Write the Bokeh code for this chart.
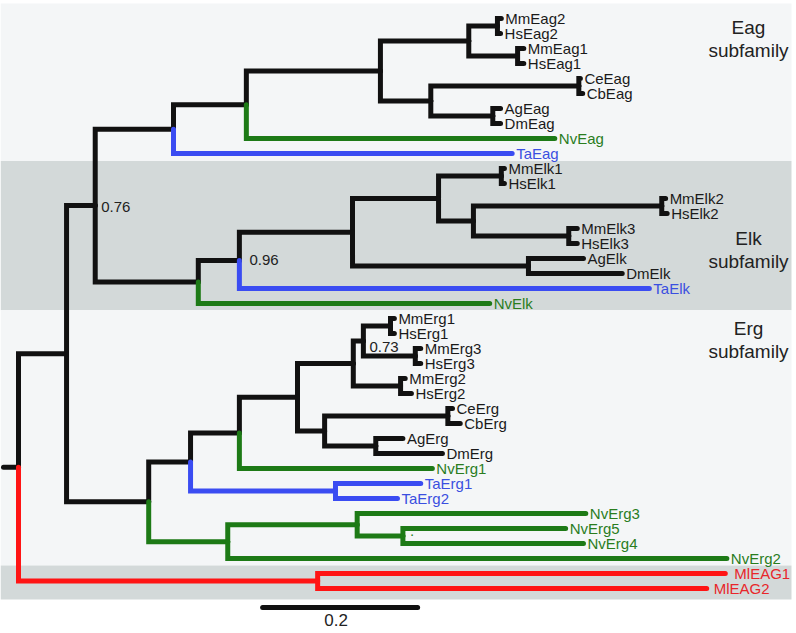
from bokeh.plotting import figure
from bokeh.models import Range1d, ColumnDataSource
from bokeh.embed import file_html
from bokeh.resources import INLINE
from bokeh.core.properties import value

# ---------------- data ----------------
# leaves, top to bottom
leaf_names = ["MmEag2", "HsEag2", "MmEag1", "HsEag1", "CeEag", "CbEag", "AgEag", "DmEag", "NvEag", "TaEag",
              "MmElk1", "HsElk1", "MmElk2", "HsElk2", "MmElk3", "HsElk3", "AgElk", "DmElk", "TaElk", "NvElk",
              "MmErg1", "HsErg1", "MmErg3", "HsErg3", "MmErg2", "HsErg2", "CeErg", "CbErg", "AgErg", "DmErg",
              "NvErg1", "TaErg1", "TaErg2", "NvErg3", "NvErg5", "NvErg4", "NvErg2", "MlEAG1", "MlEAG2"]
# distance of each tip from the root (substitutions/site)
leaf_depth = [0.623, 0.622, 0.652, 0.652, 0.725, 0.728, 0.622, 0.622, 0.692, 0.637,
              0.627, 0.627, 0.835, 0.837, 0.721, 0.721, 0.729, 0.779, 0.814, 0.608,
              0.485, 0.485, 0.519, 0.519, 0.499, 0.507, 0.560, 0.570, 0.496, 0.547,
              0.534, 0.519, 0.489, 0.732, 0.706, 0.729, 0.914, 0.912, 0.888]
leaf_lineage = (["Bilateria"] * 8 + ["Nematostella", "Trichoplax"] +
                ["Bilateria"] * 8 + ["Trichoplax", "Nematostella"] +
                ["Bilateria"] * 10 +
                ["Nematostella", "Trichoplax", "Trichoplax", "Nematostella", "Nematostella",
                 "Nematostella", "Nematostella", "Mnemiopsis", "Mnemiopsis"])

# internal nodes
node_names = ["root", "B", "C", "E", "G", "H", "I", "Eag2", "Eag1", "J", "CeCbEag", "AgDmEag",
              "F", "L", "K", "M", "Elk1", "N", "Elk2", "Elk3", "AgDmElk",
              "D", "Q", "S", "T", "U", "W", "Erg1", "Erg3", "Erg2", "V", "CeCbErg", "AgDmErg",
              "TaErg", "R", "X", "Y", "Ml"]
node_depth = [0.000, 0.062, 0.099, 0.200, 0.294, 0.467, 0.581, 0.618, 0.644, 0.532, 0.723, 0.612,
              0.232, 0.285, 0.431, 0.542, 0.623, 0.587, 0.830, 0.710, 0.658,
              0.168, 0.222, 0.285, 0.360, 0.432, 0.445, 0.480, 0.512, 0.493, 0.395, 0.554, 0.461,
              0.409, 0.270, 0.437, 0.496, 0.386]
node_children = [["B", "Ml"], ["C", "D"], ["E", "F"], ["G", "TaEag"], ["H", "NvEag"], ["I", "J"],
                 ["Eag2", "Eag1"], ["MmEag2", "HsEag2"], ["MmEag1", "HsEag1"], ["CeCbEag", "AgDmEag"],
                 ["CeEag", "CbEag"], ["AgEag", "DmEag"],
                 ["L", "NvElk"], ["K", "TaElk"], ["M", "AgDmElk"], ["Elk1", "N"], ["MmElk1", "HsElk1"],
                 ["Elk2", "Elk3"], ["MmElk2", "HsElk2"], ["MmElk3", "HsElk3"], ["AgElk", "DmElk"],
                 ["Q", "R"], ["S", "TaErg"], ["T", "NvErg1"], ["U", "V"], ["W", "Erg2"], ["Erg1", "Erg3"],
                 ["MmErg1", "HsErg1"], ["MmErg3", "HsErg3"], ["MmErg2", "HsErg2"], ["CeCbErg", "AgDmErg"],
                 ["CeErg", "CbErg"], ["AgErg", "DmErg"],
                 ["TaErg1", "TaErg2"], ["X", "NvErg2"], ["NvErg3", "Y"], ["NvErg5", "NvErg4"],
                 ["MlEAG1", "MlEAG2"]]
node_lineage = {"TaErg": "Trichoplax", "R": "Nematostella", "X": "Nematostella",
                "Y": "Nematostella", "Ml": "Mnemiopsis"}

support_nodes = ["C", "L", "W", "Y"]
support_values = ["0.76", "0.96", "0.73", "."]

subfamilies = ["Eag", "Elk", "Erg"]
scale_bar_length = 0.2

# ---------------- layout / style ----------------
W, H = 794, 631
PXX = 1 / 775.0   # data units per pixel (x)
PXY = 1 / 15.0    # leaf rows per pixel (y)
X0, Y0 = 18, 18   # pixel position of root / first leaf row
branch_colors = {"Bilateria": "#111111", "Nematostella": "#1d7a16",
                 "Trichoplax": "#3a4cf2", "Mnemiopsis": "#ff1414"}
text_colors = {"Bilateria": "#1a1a1a", "Nematostella": "#2a7d1e",
               "Trichoplax": "#3a4fe0", "Mnemiopsis": "#e8262b"}
FONT = value("Liberation Sans")

depth = dict(zip(leaf_names, leaf_depth))
depth.update(dict(zip(node_names, node_depth)))
lineage = dict(zip(leaf_names, leaf_lineage))
for n in node_names:
    lineage[n] = node_lineage.get(n, "Bilateria")
children = dict(zip(node_names, node_children))
ypos = {n: float(i) for i, n in enumerate(leaf_names)}


def get_y(n):
    if n not in ypos:
        ys = [get_y(c) for c in children[n]]
        ypos[n] = sum(ys) / len(ys)
    return ypos[n]


for n in node_names:
    get_y(n)

p = figure(width=W, height=H, output_backend="svg", toolbar_location=None,
           x_range=Range1d(-X0 * PXX, (W - X0) * PXX),
           y_range=Range1d((H - Y0) * PXY, -Y0 * PXY),
           min_border=0, outline_line_color=None, background_fill_color="white",
           border_fill_color="white")
p.axis.visible = False
p.grid.visible = False

# background bands
band_top = [-1.0, 9.5, 19.45, 36.47]
band_bot = [9.5, 19.45, 36.47, 38.73]
band_col = ["#f4f6f7", "#d3d9d9", "#f4f6f7", "#d3d9d9"]
p.quad(left=-X0 * PXX, right=773 * PXX, top=band_top, bottom=band_bot,
       fill_color=band_col, line_color=None)

# branches
xs, ys, cols = [], [], []
xs.append([depth["root"] - 15 * PXX, depth["root"]])
ys.append([ypos["root"], ypos["root"]])
cols.append(branch_colors["Bilateria"])
for n in node_names:
    for c in children[n]:
        xs.append([depth[n], depth[n], depth[c]])
        ys.append([ypos[n], ypos[c], ypos[c]])
        cols.append(branch_colors[lineage[c]])
# draw black first, coloured on top
idx = sorted(range(len(cols)), key=lambda i: cols[i] != branch_colors["Bilateria"])
src = ColumnDataSource(dict(xs=[xs[i] for i in idx], ys=[ys[i] for i in idx],
                            c=[cols[i] for i in idx]))
p.multi_line(xs="xs", ys="ys", line_color="c", line_width=5, line_join="miter",
             line_cap="round", source=src)

# tip labels
gap = {"MlEAG1": 9, "MlEAG2": 7}
lab = ColumnDataSource(dict(
    x=[depth[n] + gap.get(n, 4) * PXX for n in leaf_names],
    y=[ypos[n] for n in leaf_names],
    t=leaf_names,
    c=[text_colors[lineage[n]] for n in leaf_names]))
p.text(x="x", y="y", text="t", text_color="c", source=lab, text_font=FONT,
       text_font_size="15px", text_baseline="middle", text_align="left")

# support values
sdx = {"C": 6, "L": 10, "W": 6, "Y": 7}
sdy = {"C": 1.5, "L": 0, "W": 5.5, "Y": -5}
sup = ColumnDataSource(dict(
    x=[depth[n] + sdx[n] * PXX for n in support_nodes],
    y=[ypos[n] + sdy[n] * PXY for n in support_nodes],
    t=support_values,
    c=["#222222", "#222222", "#222222", text_colors["Nematostella"]]))
p.text(x="x", y="y", text="t", text_color="c", source=sup, text_font=FONT,
       text_font_size="15px", text_baseline="middle", text_align="left")

# subfamily labels
sub_y = [0.6, 14.67, 20.67]
sx = 730 * PXX
p.text(x=[sx] * 3, y=sub_y, text=subfamilies, text_color="#222222", text_font=FONT,
       text_font_size="19px", text_baseline="middle", text_align="center")
p.text(x=[sx] * 3, y=[v + 1.55 for v in sub_y], text=["subfamily"] * 3, text_color="#222222",
       text_font=FONT, text_font_size="19px", text_baseline="middle", text_align="center")

# scale bar
bar_x0 = 0.315
bar_y = (607 - Y0) * PXY
p.segment(x0=[bar_x0], y0=[bar_y], x1=[bar_x0 + scale_bar_length], y1=[bar_y],
          line_color="#111111", line_width=5, line_cap="round")
p.text(x=[bar_x0 + scale_bar_length / 2 - 4 * PXX], y=[bar_y + 12 * PXY],
       text=[str(scale_bar_length)], text_color="#222222", text_font=FONT,
       text_font_size="17px", text_baseline="middle", text_align="center")

open("out.html", "w").write(file_html(p, INLINE))
